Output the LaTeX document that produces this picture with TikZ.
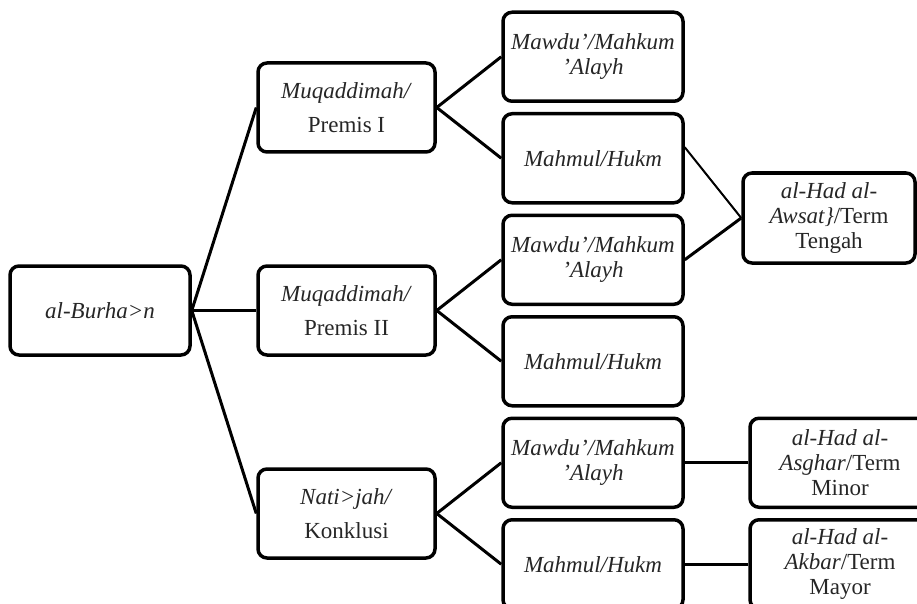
\documentclass[tikz,border=0pt]{standalone}
\usepackage{fontspec}
\setmainfont{Liberation Serif}
\begin{document}
\begin{tikzpicture}[x=1pt, y=1pt, grow'=right,
  edge from parent path={(\tikzparentnode.east) -- (\tikzchildnode.west)}]
\tikzstyle{kotak}=[draw, rounded corners=9pt, line width=3.5pt, minimum width=180pt, minimum height=89pt, inner sep=2pt, align=center, text=black!85, font={\fontsize{23}{25}\selectfont}]
\tikzstyle{garis}=[line width=3pt]
\tikzstyle{edge from parent}=[draw, garis]
\tikzstyle{level 1}=[sibling distance=203pt, level distance=246.5pt]
\tikzstyle{level 2}=[sibling distance=101.5pt, level distance=246.5pt]
\tikzstyle{level 3}=[sibling distance=101.5pt, level distance=247pt]
\useasboundingbox (0,0) rectangle (917,-604);
\node[kotak] (burhan) at (100,-310.5) {\textit{al-Burha>n}}
child
{node[kotak, minimum width=177pt] (premis1) {\textit{Muqaddimah/}\\[9pt]Premis I}
child
{node[kotak] (mawdu1) {\textit{Mawdu'/Mahkum}\\\textit{'Alayh}}}
child
{node[kotak] (mahmul1) {\textit{Mahmul/Hukm}}}
}
child
{node[kotak, minimum width=177pt] (premis2) {\textit{Muqaddimah/}\\[9pt]Premis II}
child
{node[kotak] (mawdu2) {\textit{Mawdu'/Mahkum}\\\textit{'Alayh}}}
child
{node[kotak] (mahmul2) {\textit{Mahmul/Hukm}}}
}
child
{node[kotak, minimum width=177pt] (natijah) {\textit{Nati>jah/}\\[9pt]Konklusi}
child
{node[kotak] (mawdu3) {\textit{Mawdu'/Mahkum}\\\textit{'Alayh}}
child
{node[kotak] (asghar) {\textit{al-Had al-}\\\textit{Asghar}/Term\\Minor}}
}
child
{node[kotak] (mahmul3) {\textit{Mahmul/Hukm}}
child
{node[kotak] (akbar) {\textit{al-Had al-}\\\textit{Akbar}/Term\\Mayor}}
}
};
\node[kotak, minimum width=172pt, minimum height=90pt] (awsat) at (829,-218) {\textit{al-Had al-}\\\textit{Awsat\}}/Term\\Tengah};
\draw[line width=2pt] ([yshift=11pt]mahmul1.east) -- (awsat.west);
\draw[garis] (mawdu2.east) -- (awsat.west);
\end{tikzpicture}
\end{document}
